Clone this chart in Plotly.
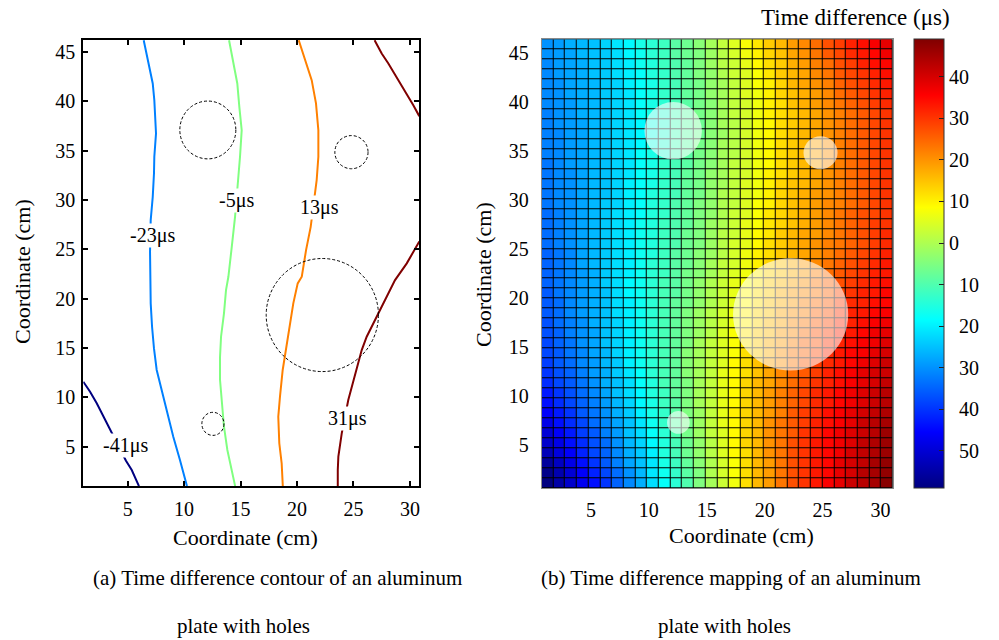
import plotly.graph_objects as go

# ---------------- data ----------------
# Right panel: time-difference map (μs), 45 rows (bottom -> top) x 30 columns (left -> right)
time_diff = [
    [-59,-55,-51,-47,-44,-40,-35,-31,-27,-22,-18,-14,-10,-5,-1,3,7,12,16,19,23,27,30,33,36,38,41,43,45,48],
    [-58,-54,-50,-46,-42,-38,-34,-30,-26,-21,-17,-13,-9,-5,0,4,8,12,16,19,23,27,30,33,35,38,40,43,45,47],
    [-56,-52,-48,-44,-40,-36,-32,-28,-25,-21,-16,-12,-8,-4,0,4,8,12,16,19,23,27,30,33,35,38,40,42,45,47],
    [-53,-49,-46,-42,-38,-35,-31,-27,-24,-20,-15,-11,-7,-3,1,5,9,12,16,20,23,27,30,33,35,37,40,42,44,46],
    [-51,-48,-44,-41,-37,-34,-30,-26,-23,-19,-15,-11,-7,-3,1,5,9,13,16,20,23,27,30,33,35,37,39,42,44,46],
    [-50,-46,-43,-39,-36,-32,-29,-25,-22,-18,-14,-10,-6,-2,2,5,9,13,16,20,23,26,30,32,35,37,39,41,43,46],
    [-48,-44,-41,-38,-34,-31,-28,-25,-21,-17,-13,-9,-6,-2,2,6,9,13,16,20,23,26,29,32,34,36,38,41,43,45],
    [-46,-43,-40,-36,-33,-30,-27,-24,-20,-16,-13,-9,-5,-2,2,6,10,13,16,19,22,26,29,31,34,36,38,40,42,44],
    [-44,-41,-38,-35,-32,-29,-26,-23,-19,-16,-12,-9,-5,-1,2,6,9,13,16,19,22,25,28,31,33,35,37,39,41,43],
    [-43,-40,-37,-34,-31,-28,-25,-22,-19,-15,-12,-8,-5,-1,2,6,9,13,16,19,22,25,28,31,33,35,37,39,41,43],
    [-41,-38,-36,-33,-30,-27,-25,-22,-18,-15,-11,-8,-5,-1,2,6,9,13,16,18,21,24,27,30,32,34,36,38,40,42],
    [-40,-37,-35,-32,-29,-27,-24,-21,-18,-14,-11,-8,-4,-1,2,6,9,12,15,18,21,24,26,29,32,34,36,38,40,41],
    [-39,-36,-34,-31,-29,-26,-24,-20,-17,-14,-11,-8,-4,-1,2,5,9,12,15,18,20,23,26,29,31,33,35,37,39,41],
    [-38,-36,-33,-31,-28,-26,-23,-20,-17,-14,-11,-8,-4,-1,2,5,8,12,14,17,20,23,25,28,31,33,35,36,38,40],
    [-38,-35,-33,-30,-28,-25,-23,-20,-17,-14,-11,-8,-5,-1,2,5,8,11,14,17,19,22,25,27,30,32,34,36,37,39],
    [-37,-35,-32,-30,-28,-25,-23,-20,-17,-14,-11,-8,-5,-2,1,5,8,11,14,16,19,21,24,27,29,32,33,35,37,38],
    [-37,-34,-32,-30,-27,-25,-23,-20,-17,-14,-11,-8,-5,-2,1,4,7,10,13,16,18,21,23,26,28,31,32,34,36,37],
    [-36,-34,-31,-29,-27,-25,-22,-20,-17,-14,-11,-8,-5,-2,1,4,7,10,13,15,18,20,22,25,27,30,32,33,35,36],
    [-36,-34,-31,-29,-27,-25,-22,-20,-17,-14,-11,-8,-6,-3,0,3,6,9,12,15,17,19,22,24,26,29,31,32,34,35],
    [-36,-33,-31,-29,-27,-25,-22,-19,-17,-14,-11,-9,-6,-3,0,3,6,9,12,14,17,19,21,23,25,28,30,32,33,35],
    [-35,-33,-31,-29,-27,-24,-22,-19,-17,-14,-11,-9,-6,-3,0,3,6,8,11,14,16,18,20,23,25,27,29,31,33,34],
    [-35,-33,-31,-29,-27,-24,-22,-20,-17,-14,-12,-9,-6,-4,-1,2,5,7,10,13,15,17,19,22,24,26,28,30,32,33],
    [-35,-33,-31,-28,-26,-24,-22,-20,-17,-14,-12,-9,-7,-4,-1,2,4,7,10,13,15,17,19,21,23,25,27,29,31,33],
    [-35,-33,-31,-28,-26,-24,-22,-20,-17,-15,-12,-9,-7,-4,-2,1,4,7,10,12,14,16,18,20,22,24,26,28,30,32],
    [-34,-32,-30,-28,-26,-24,-22,-20,-17,-15,-12,-10,-7,-5,-2,1,4,6,9,12,14,16,18,20,22,23,25,27,29,31],
    [-34,-32,-30,-28,-26,-24,-22,-20,-17,-15,-12,-10,-7,-5,-2,1,3,6,9,11,14,16,18,19,21,23,25,27,29,31],
    [-34,-32,-30,-28,-26,-24,-22,-20,-17,-15,-12,-10,-8,-5,-2,0,3,6,8,11,13,15,17,19,21,23,25,27,29,30],
    [-34,-32,-30,-28,-26,-24,-22,-20,-18,-15,-13,-10,-8,-5,-3,0,3,5,8,11,13,15,17,19,21,23,25,27,28,30],
    [-33,-31,-30,-28,-26,-24,-23,-20,-18,-15,-13,-10,-8,-5,-3,0,2,5,8,10,13,15,17,19,21,22,24,26,28,30],
    [-33,-31,-30,-28,-26,-25,-23,-20,-18,-15,-13,-11,-8,-6,-3,0,2,5,7,10,13,15,17,19,20,22,24,26,28,30],
    [-33,-31,-30,-28,-26,-25,-23,-20,-18,-16,-13,-11,-8,-6,-3,-1,2,5,7,10,13,15,16,18,20,22,24,26,28,30],
    [-33,-31,-30,-28,-26,-25,-23,-21,-18,-16,-13,-11,-8,-6,-3,-1,2,4,7,10,12,14,16,18,20,22,24,26,28,30],
    [-33,-31,-29,-28,-26,-25,-23,-21,-18,-16,-13,-11,-9,-6,-4,-1,2,4,7,9,12,14,16,18,20,22,24,26,28,30],
    [-32,-31,-29,-28,-26,-25,-23,-21,-18,-16,-14,-11,-9,-6,-4,-1,1,4,7,9,12,14,16,18,20,22,24,26,28,30],
    [-32,-31,-29,-28,-26,-25,-23,-21,-19,-16,-14,-11,-9,-6,-4,-1,1,4,7,9,12,14,16,18,20,22,24,26,28,30],
    [-32,-31,-29,-28,-26,-25,-23,-21,-19,-16,-14,-11,-9,-7,-4,-2,1,4,7,9,12,14,16,18,20,22,24,26,28,30],
    [-32,-30,-29,-28,-26,-25,-23,-21,-19,-16,-14,-11,-9,-7,-4,-1,1,4,7,9,12,14,16,18,20,22,24,26,28,30],
    [-32,-30,-29,-27,-26,-25,-23,-21,-18,-16,-14,-11,-9,-6,-4,-1,2,4,7,10,12,14,16,18,20,22,24,26,28,30],
    [-31,-30,-29,-27,-26,-25,-23,-21,-18,-16,-14,-11,-9,-6,-4,-1,2,4,7,10,12,15,17,19,21,23,25,27,29,31],
    [-31,-30,-28,-27,-26,-24,-23,-21,-18,-16,-13,-11,-8,-6,-3,-1,2,5,7,10,13,15,17,19,21,24,26,28,30,32],
    [-31,-30,-28,-27,-26,-24,-23,-20,-18,-16,-13,-11,-8,-6,-3,-1,2,5,8,10,13,16,18,20,22,25,27,29,31,33],
    [-31,-29,-28,-27,-25,-24,-22,-20,-18,-15,-13,-10,-8,-5,-3,0,3,5,8,11,14,16,18,21,23,26,28,30,32,34],
    [-31,-29,-28,-27,-25,-24,-22,-20,-17,-15,-12,-10,-8,-5,-2,1,3,6,9,12,14,17,19,22,24,27,29,32,34,35],
    [-30,-29,-28,-26,-25,-24,-22,-19,-17,-14,-12,-9,-7,-5,-2,1,4,7,10,13,15,18,20,23,26,28,31,33,35,37],
    [-30,-29,-27,-26,-25,-23,-21,-19,-16,-14,-12,-9,-7,-4,-1,2,5,8,11,14,16,19,21,24,27,29,32,34,36,38],
]
# grid geometry of the map (cm): first cell centre and cell pitch
map_x0, map_dx = 1.255, 1.01
map_y0, map_dy = 1.09, 1.019

# Left panel: contour lines (cm)
contour_levels = [-41, -23, -5, 13, 31]
c41_x = [1.07, 1.67, 2.26, 2.70, 3.29, 4.85, 5.36, 5.94, 6.00]
c41_y = [11.58, 10.57, 9.39, 8.38, 7.09, 3.58, 2.63, 1.11, 1.0]
c23_x = [6.42, 6.83, 7.22, 7.36, 7.51, 7.36, 7.33, 7.22, 7.04, 6.98, 6.98, 7.04, 7.16, 7.33,
         7.57, 8.16, 8.60, 9.04, 9.63, 10.25]
c23_y = [46.2, 43.84, 41.81, 40.12, 36.75, 34.38, 32.69, 30.32, 27.96, 24.75, 22.90, 19.52,
         17.15, 14.96, 12.77, 10.06, 8.03, 6.01, 3.65, 1.0]
c5_x = [13.98, 14.36, 14.71, 14.89, 15.10, 14.95, 14.80, 14.51, 14.22, 13.92, 13.71, 13.53,
        13.27, 13.18, 13.18, 13.33, 13.53, 13.83, 14.07, 14.52]
c5_y = [46.2, 43.84, 41.81, 39.44, 37.08, 34.38, 32.02, 28.30, 25.26, 22.22, 20.87, 18.51,
        16.14, 14.11, 11.75, 9.39, 7.02, 4.66, 3.31, 1.0]
c13_x = [20.15, 20.71, 21.30, 21.68, 21.89, 21.89, 21.74, 21.21, 20.80, 20.42, 20.06, 19.67,
         19.32, 19.03, 18.73, 18.49, 18.34, 18.43, 18.64, 18.74]
c13_y = [46.2, 44.17, 42.15, 39.79, 37.08, 34.38, 32.02, 27.28, 24.92, 22.22, 21.55, 19.52,
         17.15, 15.13, 12.77, 10.06, 8.03, 5.34, 3.31, 1.0]
c31_x = [26.87, 27.50, 28.09, 28.97, 29.72, 30.30, 30.83, None,
         30.83, 29.72, 28.68, 28.24, 27.35, 26.76, 26.17, 25.73, 25.43, 24.99, 24.54, 23.96,
         23.81, 23.66, 23.61, 23.61]
c31_y = [46.2, 44.85, 43.84, 42.15, 40.80, 39.61, 38.50, None,
         25.8, 23.58, 21.88, 20.87, 18.84, 17.50, 16.14, 14.79, 13.44, 11.75, 9.73, 6.35,
         5.34, 3.98, 2.63, 1.0]
contour_x = [c41_x, c23_x, c5_x, c13_x, c31_x]
contour_y = [c41_y, c23_y, c5_y, c13_y, c31_y]
contour_colors = ["#000080", "#0080ff", "#80ff80", "#ff8000", "#800000"]

label_text = ["-41\u03bcs", "-23\u03bcs", "-5\u03bcs", "13\u03bcs", "31\u03bcs"]
label_x = [4.77, 7.16, 14.6, 21.95, 24.47]
label_y = [5.12, 26.36, 29.99, 29.28, 7.90]

# holes in the plate (cm): centre and semi-axes
hole_cx = [12.10, 24.82, 22.24, 12.55]
hole_cy = [37.10, 34.85, 18.34, 7.31]
hole_rx = [2.48, 1.47, 4.97, 0.98]
hole_ry = [2.93, 1.68, 5.73, 1.17]

x_ticks = [5, 10, 15, 20, 25, 30]
y_ticks = [5, 10, 15, 20, 25, 30, 35, 40, 45]
cbar_tickvals = [40, 30, 20, 10, 0, -10, -20, -30, -40, -50]
cbar_ticktext = ["40", "30", "20", "10", "0",
                 "\u200710", "\u200720", "\u200730", "\u200740", "\u200750"]
cmin, cmax = -59, 49

# ---------------- styling ----------------
W, H = 999, 640
FONT = "Liberation Serif, Times New Roman, serif"
jet = [[0.0, "rgb(0,0,128)"], [0.125, "rgb(0,0,255)"], [0.375, "rgb(0,255,255)"],
       [0.625, "rgb(255,255,0)"], [0.875, "rgb(255,0,0)"], [1.0, "rgb(128,0,0)"]]

def px(x):
    return x / W

def py(y):
    return 1 - y / H

fig = go.Figure()

# contour lines (left)
for xs, ys, col in zip(contour_x, contour_y, contour_colors):
    fig.add_trace(go.Scatter(x=xs, y=ys, mode="lines", xaxis="x", yaxis="y",
                             line=dict(color=col, width=2), hoverinfo="skip",
                             connectgaps=False, showlegend=False))

# map (right)
fig.add_trace(go.Heatmap(
    z=time_diff, x0=map_x0, dx=map_dx, y0=map_y0, dy=map_dy,
    xaxis="x2", yaxis="y2", colorscale=jet, zmin=cmin, zmax=cmax,
    xgap=1, ygap=1,
    colorbar=dict(
        thickness=30, thicknessmode="pixels", len=449, lenmode="pixels",
        x=px(914.3), xanchor="left", y=py(39.3), yanchor="top", xpad=0, ypad=0,
        outlinewidth=1, outlinecolor="#333",
        tickmode="array", tickvals=cbar_tickvals, ticktext=cbar_ticktext,
        ticks="inside", ticklen=5, tickcolor="#222", tickwidth=1,
        tickfont=dict(family=FONT, size=20, color="black"),
    ),
))

axis_common = dict(showgrid=False, zeroline=False, tickfont=dict(family=FONT, size=20, color="black"))

fig.update_layout(
    width=W, height=H, margin=dict(l=0, r=0, t=0, b=0),
    paper_bgcolor="white", plot_bgcolor="white", showlegend=False,
    font=dict(family=FONT, size=20, color="black"),
    xaxis=dict(domain=[px(83.3), px(419.3)], range=[1.07, 30.83], anchor="y",
               tickmode="array", tickvals=x_ticks, ticks="inside", ticklen=5, tickwidth=1.5,
               tickcolor="black", showline=True, linecolor="black", linewidth=2, mirror="ticks",
               ticklabelstandoff=4, **axis_common),
    yaxis=dict(domain=[py(486), py(40)], range=[1.01, 46.22], anchor="x",
               tickmode="array", tickvals=y_ticks, ticks="inside", ticklen=5, tickwidth=1.5,
               tickcolor="black", showline=True, linecolor="black", linewidth=2, mirror="ticks",
               ticklabelstandoff=2, **axis_common),
    xaxis2=dict(domain=[px(541.7), px(892.7)], range=[0.75, 31.05], anchor="y2",
                tickmode="array", tickvals=x_ticks, ticks="", showline=True,
                linecolor="#8a8a8a", linewidth=1, mirror=True, ticklabelstandoff=4, **axis_common),
    yaxis2=dict(domain=[py(488.3), py(39.3)], range=[0.58, 46.43], anchor="x2",
                tickmode="array", tickvals=y_ticks, ticks="", showline=True,
                linecolor="#8a8a8a", linewidth=1, mirror=True, ticklabelstandoff=8, **axis_common),
)

shapes = [dict(type="rect", xref="x2 domain", yref="y2 domain", x0=0, x1=1, y0=0, y1=1,
               fillcolor="#000000", line=dict(width=0), layer="below")]
for cx, cy, rx, ry in zip(hole_cx, hole_cy, hole_rx, hole_ry):
    shapes.append(dict(type="circle", xref="x", yref="y", x0=cx - rx, x1=cx + rx,
                       y0=cy - ry, y1=cy + ry, line=dict(color="black", width=1, dash="3px,2px"),
                       fillcolor="rgba(0,0,0,0)", layer="above"))
    shapes.append(dict(type="circle", xref="x2", yref="y2", x0=cx - rx, x1=cx + rx,
                       y0=cy - ry, y1=cy + ry, line=dict(width=0),
                       fillcolor="white", opacity=0.6, layer="above"))
fig.update_layout(shapes=shapes)

ann = []
for t, x, y in zip(label_text, label_x, label_y):
    ann.append(dict(text=t, x=x, y=y, xref="x", yref="y", showarrow=False,
                    font=dict(family=FONT, size=20, color="black"),
                    bgcolor="white", borderpad=0))

def paper_text(t, x, y, size=22, angle=0):
    return dict(text=t, x=px(x), y=py(y), xref="paper", yref="paper", showarrow=False,
                xanchor="center", yanchor="middle", textangle=angle,
                font=dict(family=FONT, size=size, color="black"))

ann += [
    paper_text("Coordinate (cm)", 245, 537),
    paper_text("Coordinate (cm)", 741, 535),
    paper_text("Coordinate (cm)", 22, 272, angle=-90),
    paper_text("Coordinate (cm)", 483, 275, angle=-90),
    paper_text("Time difference (\u03bcs)", 855, 18, size=23),
    paper_text("(a) Time difference contour of an aluminum", 277, 578, size=21),
    paper_text("plate with holes", 243, 626, size=21),
    paper_text("(b) Time difference mapping of an aluminum", 731, 578, size=21),
    paper_text("plate with holes", 724, 626, size=21),
]
fig.update_layout(annotations=ann)

fig.write_html("out.html")
